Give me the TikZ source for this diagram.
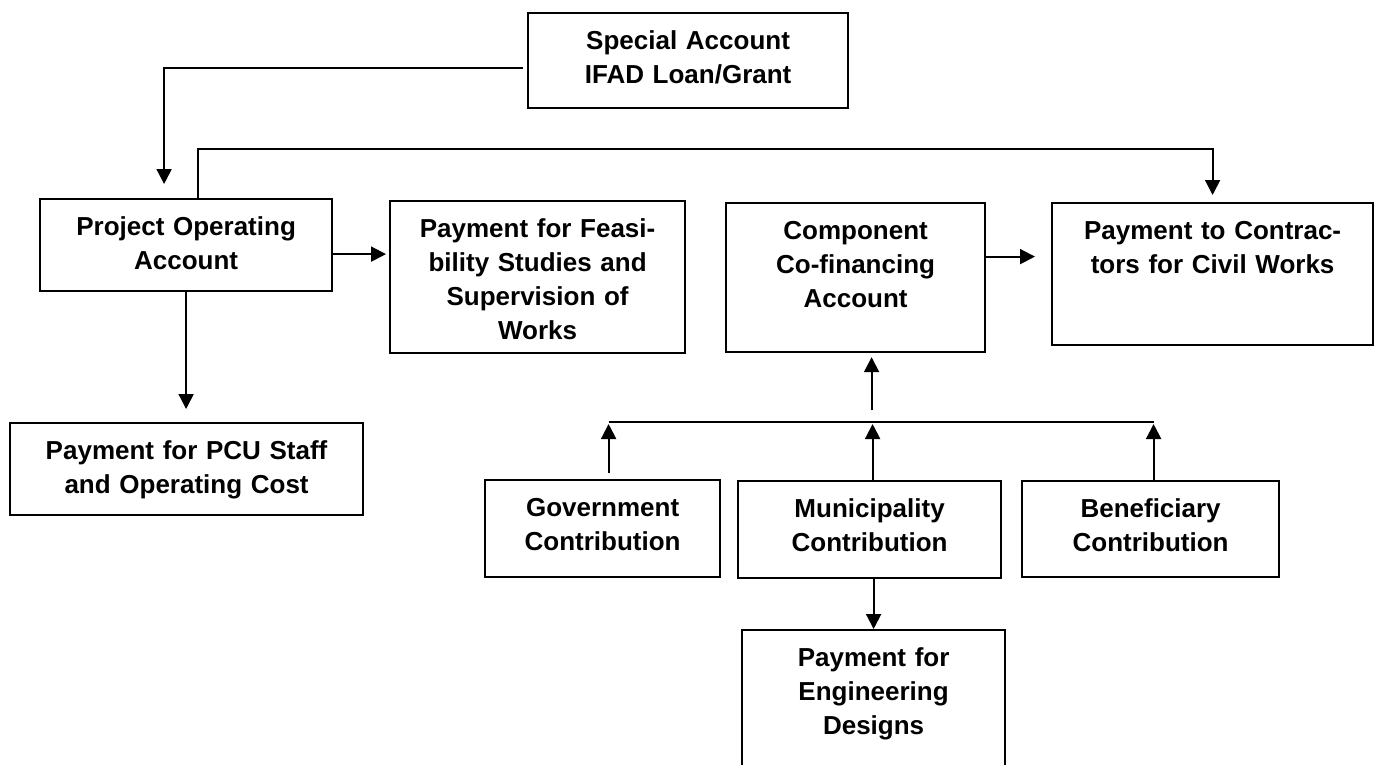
\documentclass[tikz,border=0pt]{standalone}
\usepackage{fontspec}
\setsansfont{Liberation Sans}
\usetikzlibrary{arrows.meta}

\begin{document}
\begin{tikzpicture}[
  x=1pt, y=-1pt,
  acct/.style={draw, line width=2.2pt, anchor=north west, inner sep=0pt, align=center, text height=36pt, font=\sffamily\bfseries\fontsize{26}{34}\selectfont},
  flow/.style={line width=2pt, -{Triangle[length=15pt,width=15pt]}},
  link/.style={line width=2pt}
]
  \useasboundingbox (0,0) rectangle (1376,764);
  \node[acct, text width=320pt, text depth=59pt] (spec) at (527,12) {Special Account\\IFAD Loan/Grant};
  \node[acct, text width=292pt, text depth=56pt] (poa) at (39,198) {Project Operating\\Account};
  \node[acct, text width=295pt, text depth=116pt] (feas) at (389,200) {Payment for Feasi-\\bility Studies and\\Supervision of\\Works};
  \node[acct, text width=259pt, text depth=113pt] (comp) at (725,202) {Component\\Co-financing\\Account};
  \node[acct, text width=321pt, text depth=106pt] (contr) at (1051,202) {Payment to Contrac-\\tors for Civil Works};
  \node[acct, text width=353pt, text depth=56pt] (pcu) at (9,422) {Payment for PCU Staff\\and Operating Cost};
  \node[acct, text width=235pt, text depth=61pt] (gov) at (484,479) {Government\\Contribution};
  \node[acct, text width=263pt, text depth=61pt] (muni) at (737,480) {Municipality\\Contribution};
  \node[acct, text width=257pt, text depth=60pt] (benef) at (1021,480) {Beneficiary\\Contribution};
  \node[acct, text width=263pt, text depth=144pt] (eng) at (741,629) {Payment for\\Engineering\\Designs};

  \coordinate (over) at (0,149);
  \coordinate (bus) at (0,422);
  \coordinate (feed) at (0,410);

  \draw[flow, shorten <=4pt, shorten >=14pt] ([yshift=-7.5pt]spec.west) -| ([xshift=-22pt]poa.north);
  \draw[flow, shorten >=7pt] ([xshift=12pt]poa.north) |- (contr.north |- over) -- (contr.north);
  \draw[flow, shorten >=3pt] ([yshift=-9pt]poa.east) -- ([yshift=-9pt]poa.east -| feas.west);
  \draw[flow, shorten >=13pt] (poa.south) -- (poa.south |- pcu.north);
  \draw[flow, shorten >=16pt] ([yshift=21pt]comp.east) -- ([yshift=21pt]comp.east -| contr.west);
  \draw[link] ([xshift=6pt]gov.north |- bus) -- ([xshift=3pt]benef.north |- bus);
  \draw[flow, shorten <=6pt, shorten >=2pt] ([xshift=6pt]gov.north) -- ([xshift=6pt]gov.north |- bus);
  \draw[flow, shorten >=2pt] ([xshift=3pt]muni.north) -- ([xshift=3pt]muni.north |- bus);
  \draw[flow, shorten >=2pt] ([xshift=3pt]benef.north) -- ([xshift=3pt]benef.north |- bus);
  \draw[flow, shorten >=4pt] ([xshift=2pt]muni.north |- feed) -- ([xshift=2pt]muni.north |- comp.south);
  \draw[flow] (eng.north |- muni.south) -- (eng.north);
\end{tikzpicture}
\end{document}
